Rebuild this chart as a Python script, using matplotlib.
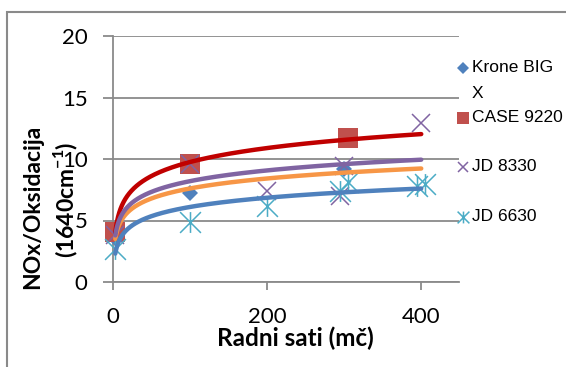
# -*- coding: utf-8 -*-

# NOx / oksidacija u odnosu na radne sate, s logaritamskim trendovima

import numpy as np
import matplotlib
matplotlib.use('Agg')
import matplotlib.pyplot as plt
from matplotlib.lines import Line2D
from matplotlib.patches import Rectangle
from matplotlib.path import Path

# ---------------------------------------------------------------
# PODACI

hours_krone = [3, 100, 300]
nox_krone = [3.6, 7.2, 9.2]

hours_case = [3, 100, 305]
nox_case = [4.05, 9.6, 11.7]

hours_jd8330 = [3, 100, 200, 295, 300, 400]
nox_jd8330 = [3.8, 9.6, 7.4, 7.0, 9.4, 12.95]

hours_jd6630 = [3, 100, 200, 295, 305, 395, 405]
nox_jd6630 = [2.7, 4.9, 6.15, 7.4, 8.1, 7.8, 8.0]

labels = ['Krone BIG\nX', 'CASE 9220', 'JD 8330', 'JD 6630']
x_ticks = [0, 200, 400]
y_ticks = [0, 5, 10, 15, 20]

# ---------------------------------------------------------------
# STIL

W, H = 566, 367
GRAY = '#8a8a8a'
TICK_FONT = 'Lato'
LEG_FONT = 'Liberation Sans'

plt.rcParams['mathtext.fontset'] = 'custom'
plt.rcParams['mathtext.rm'] = 'Lato'
plt.rcParams['mathtext.bf'] = 'Lato:bold'

# asterisk kao u Excelu: X + okomita crta
star = Path([(-0.5, -0.5), (0.5, 0.5), (-0.5, 0.5), (0.5, -0.5), (0, -0.5), (0, 0.5)],
            [Path.MOVETO, Path.LINETO, Path.MOVETO, Path.LINETO, Path.MOVETO, Path.LINETO])

series = [
    (hours_krone, nox_krone, dict(marker='D', color='#4F81BD', ms=8, mew=0), '#F79646'),
    (hours_case, nox_case, dict(marker='s', color='#C0504D', ms=14, mew=0), '#C00000'),
    (hours_jd8330, nox_jd8330, dict(marker='x', color='#8064A2', ms=13, mew=1.1), '#8064A2'),
    (hours_jd6630, nox_jd6630, dict(marker=star, color='#4BACC6', ms=15, mew=1.1), '#4F81BD'),
]


def px(x, y):
    return x / W, 1 - y / H


def main():
    fig = plt.figure(figsize=(W / 100, H / 100), dpi=100)
    ax = fig.add_axes([113 / W, 1 - 282 / H, (459 - 113) / W, (282 - 36) / H])

    # tocke
    for xs, ys, style, _ in series:
        ax.plot(xs, ys, ls='none', clip_on=False, zorder=3, **style)

    # logaritamski trendovi
    for xs, ys, _, tcol in series:
        a, b = np.polyfit(np.log(xs), ys, 1)
        xx = np.geomspace(min(xs), 400, 300)
        ax.plot(xx, a * np.log(xx) + b, color=tcol, lw=3.2,
                solid_capstyle='round', zorder=4, clip_on=False)

    ax.set_xlim(0, 449)
    ax.set_ylim(0, 20)
    ax.set_xticks(x_ticks)
    ax.set_yticks(y_ticks)
    ax.grid(axis='y', color=GRAY, lw=1.3)
    ax.set_axisbelow(True)
    for side in ['top', 'right']:
        ax.spines[side].set_visible(False)
    for side in ['left', 'bottom']:
        ax.spines[side].set_color(GRAY)
        ax.spines[side].set_linewidth(1.3)
    ax.tick_params(axis='y', length=7.2, width=1.3, color=GRAY, pad=11)
    ax.tick_params(axis='x', length=6, width=1.3, color=GRAY, pad=12)
    for lab in ax.get_xticklabels() + ax.get_yticklabels():
        lab.set_fontfamily(TICK_FONT)
        lab.set_fontsize(16)

    # naslovi osi
    fig.text(*px(295, 338), 'Radni sati (mč)', ha='center', va='center',
             fontfamily=TICK_FONT, fontweight='bold', fontsize=17.5)
    fig.text(*px(33, 207), 'NOx/Oksidacija', ha='center', va='center',
             rotation=90, fontfamily=TICK_FONT, fontweight='bold', fontsize=16.5)
    fig.text(*px(66, 200), r'(1640cm$^{\mathbf{-1}}$)', ha='center', va='center',
             rotation=90, fontfamily=TICK_FONT, fontweight='bold', fontsize=16.5)

    # legenda
    leg_y = [68, 118, 167, 217]
    leg_ms = [6, 8.5, 7.5, 8.5]
    for (xs, ys, style, _), lab, ly, ms in zip(series, labels, leg_y, leg_ms):
        st = dict(style)
        st['ms'] = ms
        fig.add_artist(Line2D([463 / W], [1 - ly / H], ls='none',
                              transform=fig.transFigure, **st))
        fig.text(472 / W, 1 - ly / H, lab.split('\n')[0], ha='left', va='center',
                 fontfamily=LEG_FONT, fontsize=12.5)
        if '\n' in lab:
            fig.text(472 / W, 1 - (ly + 25) / H, lab.split('\n')[1], ha='left',
                     va='center', fontfamily=LEG_FONT, fontsize=12.5)

    # okvir grafikona
    fig.add_artist(Rectangle(px(7, 420), 700 / W, 408 / H, transform=fig.transFigure,
                             fill=False, ec=GRAY, lw=1.5))

    fig.savefig('out.png', dpi=100)


if __name__ == '__main__':
    main()
